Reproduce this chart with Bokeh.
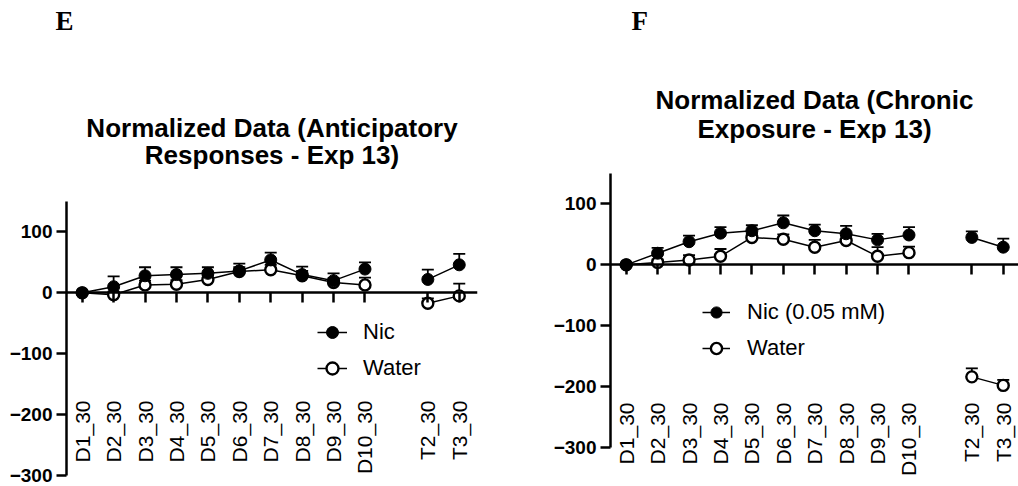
import math
from bokeh.plotting import figure
from bokeh.models import (ColumnDataSource, LinearAxis, FixedTicker, Whisker, TeeHead,
                          LabelSet, Label, Legend, LegendItem, Range1d, Title)
from bokeh.layouts import row
from bokeh.embed import file_html
from bokeh.resources import INLINE
from bokeh.core.properties import value

# ---------------- data ----------------
labels = ["D1_30", "D2_30", "D3_30", "D4_30", "D5_30", "D6_30", "D7_30",
          "D8_30", "D9_30", "D10_30", "T2_30", "T3_30"]
x_pos = [0, 1, 2, 3, 4, 5, 6, 7, 8, 9, 11, 12]
y_ticks = [-300, -200, -100, 0, 100]
y_min, y_max = -300, 150

# Panel E: Anticipatory responses
nic_e = [0, 10, 28, 30, 32, 36, 54, 30, 20, 39, 22, 46]
nic_e_sem = [0, 17, 14, 12, 10, 12, 12, 13, 12, 11, 16, 18]
water_e = [0, -3, 13, 14, 22, 35, 38, 28, 17, 13, -17, -5]
water_e_sem = [0, 5, 7, 7, 7, 7, 8, 8, 7, 12, 8, 20]

# Panel F: Chronic exposure
nic_f = [0, 19, 38, 52, 56, 69, 56, 51, 41, 49, 45, 29]
nic_f_sem = [0, 9, 10, 10, 9, 12, 10, 13, 10, 13, 10, 14]
water_f = [0, 4, 8, 14, 45, 42, 29, 40, 14, 20, -184, -198]
water_f_sem = [0, 5, 8, 12, 6, 8, 12, 8, 15, 10, 14, 9]

FONT = "Liberation Sans"
H = 486            # figure height (px)
TOP = 35           # border above the frame (holds the panel letter)
UNIT_PX = 31.42    # px per category step
X0 = -0.5
TEXT_SHIFT = 10    # px correction for label baselines


def line_arrays(xs, ys):
    # break the connecting line between the D-days and the T-tests
    lx, ly = [], []
    for i, (a, b) in enumerate(zip(xs, ys)):
        if i > 0 and a - xs[i - 1] > 1:
            lx.append(float("nan"))
            ly.append(float("nan"))
        lx.append(a)
        ly.append(b)
    return lx, ly


def make_panel(cfg):
    fw = cfg["frame_w"]
    ax_top, ax_bot = cfg["axis_top_px"], cfg["axis_bot_px"]
    scale = (ax_bot - ax_top) / (y_max - y_min)       # px per unit
    y_start = y_min - (H - ax_bot) / scale
    y_end = y_max + (ax_top - TOP) / scale
    x1 = X0 + fw / UNIT_PX

    def yv(px):      # pixel row (from figure top) -> data value
        return y_max + (ax_top - px) / scale

    p = figure(frame_width=fw, frame_height=H - TOP,
               x_range=Range1d(X0, x1), y_range=Range1d(y_start, y_end),
               output_backend="svg", toolbar_location=None,
               x_axis_location=None, y_axis_location=None,
               min_border_left=cfg["border_l"], min_border_right=cfg["border_r"],
               min_border_bottom=0, min_border_top=TOP)
    p.xgrid.visible = False
    p.ygrid.visible = False
    p.outline_line_color = None

    # y axis (drawn only between -300 and 150)
    yax = LinearAxis(ticker=FixedTicker(ticks=y_ticks), bounds=(y_min, y_max),
                     axis_line_width=2.5, major_tick_out=10, major_tick_in=0,
                     major_tick_line_width=2.5, minor_tick_out=0, minor_tick_in=0,
                     major_label_text_font=FONT, major_label_text_font_style="bold",
                     major_label_text_font_size="19px", major_label_standoff=4,
                     major_label_text_color="black", axis_line_color="black")
    p.add_layout(yax, "left")

    # x axis crossing at y = 0, ticks pointing down
    xax = LinearAxis(fixed_location=0, ticker=FixedTicker(ticks=x_pos),
                     bounds=(X0, x1),
                     axis_line_width=2.5, major_tick_out=0, major_tick_in=10,
                     major_tick_line_width=2.5, minor_tick_out=0, minor_tick_in=0,
                     major_label_text_font_size="0px", major_label_text_alpha=0,
                     major_label_standoff=0, axis_line_color="black")
    p.add_layout(xax, "above")

    # panel letter
    p.add_layout(Title(text=cfg["letter"], align="left", offset=cfg["letter_dx"],
                       vertical_align="bottom", standoff=0,
                       text_font="Liberation Serif", text_font_style="bold",
                       text_font_size="27px", text_color="black"), "above")

    # category labels at the bottom
    lab_src = ColumnDataSource(dict(x=x_pos, text=labels))
    ls = LabelSet(x="x", y=yv(cfg["label_top_px"]), text="text", source=lab_src,
                  angle=math.pi / 2, text_align="right", text_baseline="middle",
                  text_font=value(FONT), text_font_size=value("21px"),
                  text_color="black")
    p.add_layout(ls)

    nic, nic_sem = cfg["nic"], cfg["nic_sem"]
    water, water_sem = cfg["water"], cfg["water_sem"]
    nic_src = ColumnDataSource(dict(x=x_pos, y=nic, upper=[a + b for a, b in zip(nic, nic_sem)]))
    wat_src = ColumnDataSource(dict(x=x_pos, y=water, upper=[a + b for a, b in zip(water, water_sem)]))
    for src in (wat_src, nic_src):
        w = Whisker(source=src, base="x", upper="upper", lower="y",
                    upper_head=TeeHead(size=12, line_width=1.8, line_color="black"),
                    lower_head=None, line_width=1.8, line_color="black", level="underlay")
        p.add_layout(w)

    wlx, wly = line_arrays(x_pos, water)
    nlx, nly = line_arrays(x_pos, nic)
    wl = p.line(wlx, wly, line_color="black", line_width=1.5)
    nl = p.line(nlx, nly, line_color="black", line_width=1.5)
    ws = p.scatter("x", "y", source=wat_src, size=11, fill_color="white",
                   line_color="black", line_width=2.4)
    ns = p.scatter("x", "y", source=nic_src, size=12, fill_color="black",
                   line_color="black", line_width=1)

    legend = Legend(items=[LegendItem(label=cfg["nic_name"], renderers=[nl, ns]),
                           LegendItem(label="Water", renderers=[wl, ws])],
                    location=cfg["legend_loc"], border_line_alpha=0,
                    background_fill_alpha=0, padding=0, margin=0, spacing=6,
                    glyph_width=cfg["legend_gw"], glyph_height=30, label_height=30,
                    label_standoff=cfg["legend_standoff"],
                    label_text_font=FONT, label_text_font_size="22px",
                    label_text_color="black")
    p.add_layout(legend)

    xc = (X0 + x1) / 2
    for txt, base_px in ((cfg["title1"], cfg["title_px"][0]), (cfg["title2"], cfg["title_px"][1])):
        p.add_layout(Label(x=xc, y=yv(base_px - TEXT_SHIFT), text=txt, text_align="center",
                           text_baseline="alphabetic", text_font=FONT,
                           text_font_style="bold", text_font_size="26px",
                           text_color="black"))
    return p


pE = make_panel(dict(letter="E", letter_dx=-11,
                     title1="Normalized Data (Anticipatory", title2="Responses - Exp 13)",
                     title_px=(137, 164),
                     nic=nic_e, nic_sem=nic_e_sem, water=water_e, water_sem=water_e_sem,
                     nic_name="Nic", frame_w=411, border_l=66, border_r=63,
                     axis_top_px=201, axis_bot_px=475, label_top_px=400,
                     legend_loc=(251, 103), legend_gw=30, legend_standoff=16))
pF = make_panel(dict(letter="F", letter_dx=21,
                     title1="Normalized Data (Chronic", title2="Exposure - Exp 13)",
                     title_px=(109, 138),
                     nic=nic_f, nic_sem=nic_f_sem, water=water_f, water_sem=water_f_sem,
                     nic_name="Nic (0.05 mM)", frame_w=408, border_l=70, border_r=0,
                     axis_top_px=173, axis_bot_px=447, label_top_px=402,
                     legend_loc=(92, 123), legend_gw=28, legend_standoff=17))

layout = row(pE, pF, spacing=0)
open("out.html", "w").write(file_html(layout, INLINE))
